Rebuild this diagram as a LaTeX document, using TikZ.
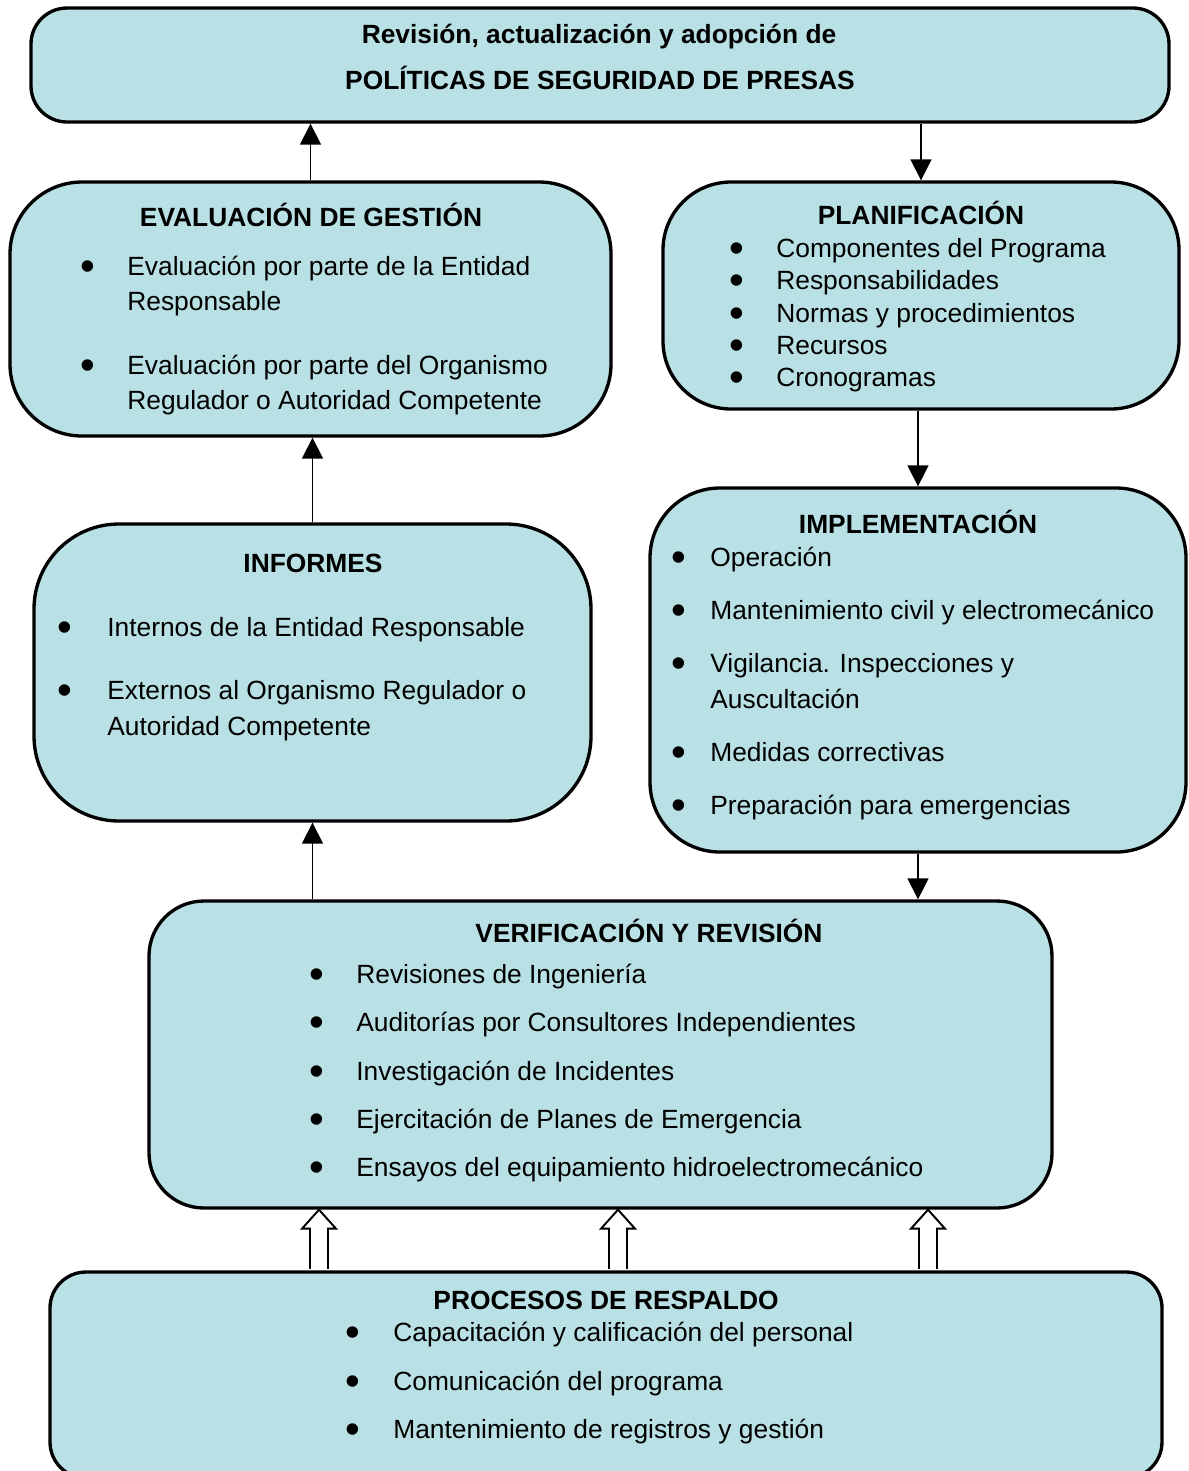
\documentclass[tikz,border=0pt]{standalone}
\usepackage{fontspec}
\usepackage{graphicx}
\setmainfont{Liberation Sans}
\usetikzlibrary{arrows.meta,calc,fit}

\definecolor{boxfill}{RGB}{185,224,228}
\newcommand{\basefont}{\fontsize{15}{18}\selectfont}
\newcommand{\bul}[1][0.65cm]{\llap{\smash{\raisebox{-0.2em}{\scalebox{1.6}{\textbullet}}}\hspace{#1}}}

\begin{document}
\begin{tikzpicture}[x=0.02cm, y=-0.02cm, box/.style={draw, line width=1.9pt, fill=boxfill, inner sep=0pt}, head/.style={anchor=base, inner sep=0pt, font=\basefont\bfseries}, txt/.style={anchor=base west, inner sep=0pt, font=\basefont}, link/.style={->, line width=0.85pt}, hollow/.style={draw, fill=white, line width=1.1pt, line join=miter}, >={Triangle[length=0.42cm, width=0.42cm]}]
\useasboundingbox (0,0) rectangle (1188,1471);

% boxes
\node[box, rounded corners=0.72cm, fit={(31,8) (1169,122)}] (pol) {};
\node[box, rounded corners=1.44cm, fit={(10,182) (611,436)}] (eval) {};
\node[box, rounded corners=1.36cm, fit={(663,182) (1179,409)}] (plan) {};
\node[box, rounded corners=1.7cm, fit={(34,524) (591,821)}] (inf) {};
\node[box, rounded corners=1.4cm, fit={(650,488) (1186,852)}] (impl) {};
\node[box, rounded corners=1.1cm, fit={(149,901) (1052,1208)}] (verif) {};
\node[box, rounded corners=0.72cm, fit={(50,1272) (1162,1478)}] (proc) {};

% headings
\node[head] (pol-a) at (599,43) {Revisión, actualización y adopción de};
\node[head] (pol-b) at (600,89) {POLÍTICAS DE SEGURIDAD DE PRESAS};
\node[head] (eval-h) at (311,226) {EVALUACIÓN DE GESTIÓN};
\node[head] (plan-h) at (921,224) {PLANIFICACIÓN};
\node[head] (inf-h) at (313,572) {INFORMES};
\node[head] (impl-h) at (918,533) {IMPLEMENTACIÓN};
\node[head] (verif-h) at (649,942) {VERIFICACIÓN Y REVISIÓN};
\node[head] (proc-h) at (606,1309) {PROCESOS DE RESPALDO};

% bullet lists
\foreach \y/\entry [count=\i] in {275/{\bul Evaluación por parte de la Entidad}, 310/{Responsable}, 374/{\bul Evaluación por parte del Organismo}, 409/{Regulador o Autoridad Competente}}
  \node[txt] (eval-\i) at (127,\y) {\entry};
\foreach \y/\entry [count=\i] in {257/Componentes del Programa, 289/Responsabilidades, 322/Normas y procedimientos, 354/Recursos, 386/Cronogramas}
  \node[txt] (plan-\i) at (776,\y) {\bul\entry};
\foreach \y/\entry [count=\i] in {636/{\bul[0.71cm]Internos de la Entidad Responsable}, 699/{\bul[0.71cm]Externos al Organismo Regulador o}, 735/{Autoridad Competente}}
  \node[txt] (inf-\i) at (107,\y) {\entry};
\foreach \y/\entry [count=\i] in {566/{\bul[0.49cm]Operación}, 619/{\bul[0.49cm]Mantenimiento civil y electromecánico}, 672/{\bul[0.49cm]Vigilancia. Inspecciones y}, 708/{Auscultación}, 761/{\bul[0.49cm]Medidas correctivas}, 814/{\bul[0.49cm]Preparación para emergencias}}
  \node[txt] (impl-\i) at (710,\y) {\entry};
\foreach \y/\entry [count=\i] in {983/Revisiones de Ingeniería, 1031/Auditorías por Consultores Independientes, 1080/Investigación de Incidentes, 1128/Ejercitación de Planes de Emergencia, 1176/Ensayos del equipamiento hidroelectromecánico}
  \node[txt] (verif-\i) at (356,\y) {\bul\entry};
\foreach \y/\entry [count=\i] in {1341/Capacitación y calificación del personal, 1390/Comunicación del programa, 1438/Mantenimiento de registros y gestión}
  \node[txt] (proc-\i) at (393,\y) {\bul[0.67cm]\entry};

% flow
\draw[link] (eval.north) -- (eval.north |- pol.south);
\draw[link] (pol.south -| plan.north) -- (plan.north);
\draw[link] (plan.south -| impl.north) -- (impl.north);
\draw[link] (inf.north) -- (inf.north |- eval.south);
\draw[link] (verif.north -| inf.south) -- (inf.south);
\draw[link] (impl.south) -- (impl.south |- verif.north);

% support arrows
\foreach \ax in {319,618,928} {
  \path (\ax,0 |- proc.north) coordinate (s) (\ax,0 |- verif.south) coordinate (t);
  \draw[hollow] ($(s)+(-9,-1.5)$) -- ($(t)+(-9,19)$) -- ($(t)+(-17,19)$) -- (t) -- ($(t)+(17,19)$) -- ($(t)+(9,19)$) -- ($(s)+(9,-1.5)$);
}
\end{tikzpicture}
\end{document}
